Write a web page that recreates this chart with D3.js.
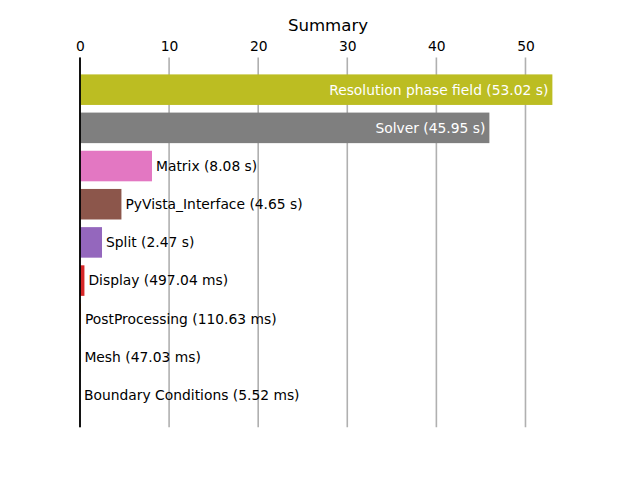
<!DOCTYPE html>
<html><head><meta charset="utf-8">
<script src="https://cdn.jsdelivr.net/npm/d3@7"></script>
<style>body{margin:0;background:#fff;} text{font-family:"DejaVu Sans",sans-serif;}</style>
</head><body>
<svg id="c" width="640" height="480"></svg>
<script>
const categories = ["Resolution phase field","Solver","Matrix","PyVista_Interface","Split","Display","PostProcessing","Mesh","Boundary Conditions"];
const values = [53.02,45.95,8.08,4.65,2.47,0.49704,0.11063,0.04703,0.00552];
const labels = ["53.02 s","45.95 s","8.08 s","4.65 s","2.47 s","497.04 ms","110.63 ms","47.03 ms","5.52 ms"];
const colors = ["#bcbd22","#7f7f7f","#e377c2","#8c564b","#9467bd","#d62728","#ff7f0e","#2ca02c","#1f77b4"];
const tickValues = [0,10,20,30,40,50];

const svg = d3.select("#c");
const L=80, R=576, T=57.6, B=427.2;
const FS = "13.85px";
const maxV = d3.max(values);
const x = d3.scaleLinear().domain([0, maxV*1.05]).range([L,R]);
const n = categories.length;
const y = d3.scaleLinear().domain([-0.84, n-1+0.84]).range([T,B]);
const bh = (y(0.4)-y(-0.4));

// grid
svg.append("g").selectAll("line").data(tickValues).join("line")
  .attr("x1",d=>x(d)).attr("x2",d=>x(d)).attr("y1",T).attr("y2",B)
  .attr("stroke","#b0b0b0").attr("stroke-width",1.6);

// axis on top
const ax = svg.append("g").attr("transform",`translate(0,${T})`)
  .call(d3.axisTop(x).tickValues(tickValues).tickSize(0).tickPadding(7).tickFormat(d3.format("d")));
ax.select(".domain").remove();
ax.selectAll("text").attr("font-size",FS).attr("fill","#000").style("font-family","DejaVu Sans");

// bars
svg.append("g").selectAll("rect").data(values).join("rect")
  .attr("x",x(0)).attr("y",(d,i)=>y(i)-bh/2)
  .attr("width",d=>x(d)-x(0)).attr("height",bh)
  .attr("fill",(d,i)=>colors[i]);

// labels
svg.append("g").selectAll("text").data(values).join("text")
  .attr("y",(d,i)=>y(i)).attr("dy","0.35em")
  .attr("font-size",FS)
  .attr("x",(d,i)=> d > maxV*0.5 ? x(d)-4 : x(d)+4)
  .attr("text-anchor",d=> d > maxV*0.5 ? "end" : "start")
  .attr("fill",d=> d > maxV*0.5 ? "#fff" : "#000")
  .text((d,i)=>`${categories[i]} (${labels[i]})`);

// left spine
svg.append("line").attr("x1",L).attr("x2",L).attr("y1",T).attr("y2",B)
  .attr("stroke","#000").attr("stroke-width",1.8);

// title
svg.append("text").attr("x",(L+R)/2).attr("y",31).attr("text-anchor","middle")
  .attr("font-size","16.6px").attr("fill","#000").text("Summary");
</script>
</body></html>
